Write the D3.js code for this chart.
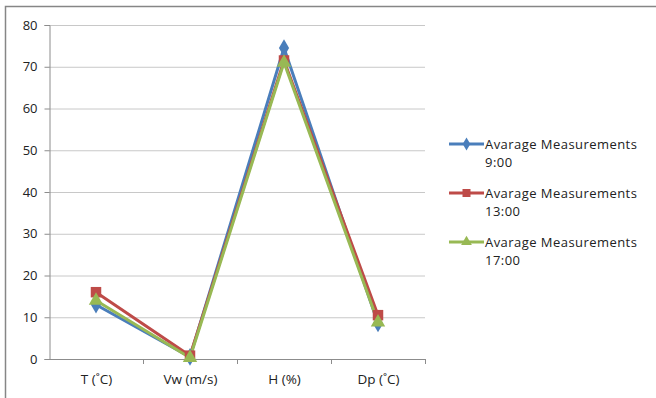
<!DOCTYPE html>
<html><head><meta charset="utf-8">
<script src="https://cdn.jsdelivr.net/npm/d3@7"></script>
<style>body{margin:0;background:#fff;} svg{display:block;font-family:"Open Sans",sans-serif;}</style>
</head><body>
<svg id="c" width="656" height="398"></svg>
<script>
const categories = ["T (˚C)", "Vw (m/s)", "H (%)", "Dp (˚C)"];
const seriesNames = ["Avarage Measurements 9:00", "Avarage Measurements 13:00", "Avarage Measurements 17:00"];
const values9 = [13, 0.5, 74.5, 8.5];
const values13 = [16, 0.8, 71.5, 10.5];
const values17 = [14, 0.3, 71, 8.8];
const yTicks = [0, 10, 20, 30, 40, 50, 60, 70, 80];
const colors = ["#4A7EBB", "#BE4B48", "#98B954"];
const symbols = [d3.symbolDiamond, d3.symbolSquare, d3.symbolTriangle];

(function(){
const svg = d3.select("#c");
svg.append("rect").attr("x",5.5).attr("y",6.5).attr("width",660).attr("height",400)
  .attr("fill","#fff").attr("stroke","#868686").attr("stroke-width",1.5);

const pLeft = 49, pRight = 425, pTop = 25, pBottom = 359;
const x = d3.scalePoint().domain(categories).range([pLeft, pRight]).padding(0.5);
const xb = d3.scaleBand().domain(categories).range([pLeft, pRight]);
const y = d3.scaleLinear().domain([0, 80]).range([pBottom, pTop]);

svg.append("g").selectAll("line").data(yTicks.slice(1)).join("line")
  .attr("x1", pLeft).attr("x2", pRight).attr("y1", d => y(d)+0.5).attr("y2", d => y(d)+0.5)
  .attr("stroke", "#c8c8c8").attr("stroke-width", 1);

const ya = svg.append("g").attr("transform", `translate(${pLeft+0.5},0)`)
  .call(d3.axisLeft(y).tickValues(yTicks).tickSize(5).tickPadding(7).tickFormat(d3.format("d")));
ya.select(".domain").attr("stroke", "#8c8c8c");
ya.selectAll(".tick line").attr("stroke", "#8c8c8c");
ya.selectAll("text").attr("font-size", 13).attr("fill", "#222").attr("font-family","Open Sans, sans-serif");

const xa = svg.append("g").attr("transform", `translate(0,${pBottom+0.5})`)
  .call(d3.axisBottom(x).tickSize(0).tickPadding(15));
xa.select(".domain").remove();
xa.selectAll("text").attr("font-size", 13.5).attr("fill", "#222").attr("font-family","Open Sans, sans-serif");
svg.append("line").attr("x1", pLeft).attr("x2", pRight).attr("y1", pBottom+0.5).attr("y2", pBottom+0.5).attr("stroke","#8c8c8c");
svg.append("g").selectAll("line").data(categories).join("line")
  .attr("x1", d => xb(d)+xb.bandwidth()+0.5).attr("x2", d => xb(d)+xb.bandwidth()+0.5)
  .attr("y1", pBottom).attr("y2", pBottom+5).attr("stroke","#8c8c8c");

const allSeries = [values9, values13, values17];
const line = d3.line().x((d,i) => x(categories[i])).y(d => y(d));
allSeries.forEach((vals, s) => {
  svg.append("path").datum(vals).attr("d", line).attr("fill","none")
    .attr("stroke", colors[s]).attr("stroke-width", 3).attr("stroke-linejoin","round");
});
allSeries.forEach((vals, s) => {
  svg.append("g").selectAll("path").data(vals).join("path")
    .attr("transform", (d,i) => `translate(${x(categories[i])},${y(d)})`)
    .attr("d", d3.symbol().type(symbols[s]).size(s===1?110:90))
    .attr("fill", colors[s]);
});

const lg = svg.append("g");
seriesNames.forEach((name, s) => {
  const ly = 144 + s*49;
  lg.append("line").attr("x1", 449).attr("x2", 484).attr("y1", ly).attr("y2", ly)
    .attr("stroke", colors[s]).attr("stroke-width", 3);
  lg.append("path").attr("transform", `translate(466.5,${ly})`)
    .attr("d", d3.symbol().type(symbols[s]).size(s===1?64:50)).attr("fill", colors[s]);
  const words = name.split(" ");
  lg.append("text").attr("x", 485).attr("y", ly+4.5).attr("font-size", 13).attr("letter-spacing", 0.45)
    .attr("fill","#222").text(words.slice(0,2).join(" "));
  lg.append("text").attr("x", 485).attr("y", ly+22.5).attr("font-size", 13).attr("letter-spacing", 0.45)
    .attr("fill","#222").text(words[2]);
});
})();
</script>
</body></html>
